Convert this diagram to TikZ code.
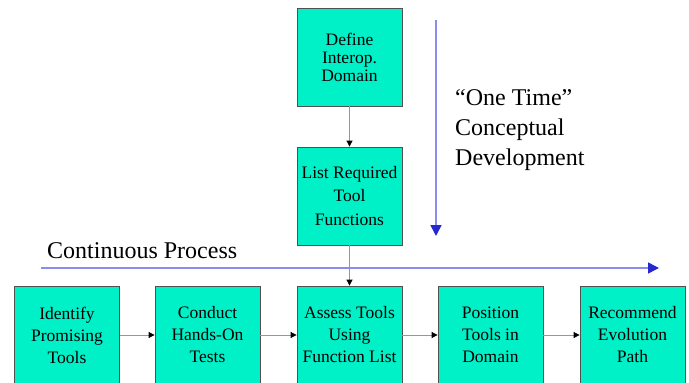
\documentclass[tikz,border=0pt]{standalone}
\usepackage{fontspec}
\setmainfont{Liberation Serif}
\usetikzlibrary{arrows.meta}
\definecolor{boxfill}{RGB}{0,240,200}
\definecolor{boxline}{RGB}{80,80,80}
\definecolor{flowline}{RGB}{150,150,150}
\definecolor{timeline}{RGB}{140,140,240}
\definecolor{timehead}{RGB}{40,40,210}
\tikzset{
  stepbox/.style={draw=boxline, line width=0.8pt, fill=boxfill,
    minimum width=105pt, minimum height=98pt, inner sep=0pt,
    align=center, font=\fontsize{17.5}{22}\selectfont},
  flow/.style={draw=flowline, line width=0.8pt,
    -{Triangle[length=6pt,width=6pt,color=black]}},
  timeaxis/.style={draw=timeline, line width=1.6pt,
    -{Triangle[length=11pt,width=11pt,color=timehead]}},
  bigtext/.style={font=\fontsize{24}{30}\selectfont, inner sep=0pt}
}
\begin{document}
\begin{tikzpicture}[x=1pt,y=-1pt]
  \useasboundingbox (0,0) rectangle (689,383);
  \clip (0,0) rectangle (689,383);

  % conceptual-development boxes
  \node[stepbox, font=\fontsize{17.5}{18}\selectfont] (def) at (349.5,57)
    {Define\\Interop.\\Domain};
  \node[stepbox, font=\fontsize{17.5}{23.5}\selectfont] (req) at (349.5,196)
    {List Required\\Tool\\Functions};

  % process boxes
  \node[stepbox] (b1) at (67,335)    {Identify\\Promising\\Tools};
  \node[stepbox] (b2) at (207.5,335) {Conduct\\Hands-On\\Tests};
  \node[stepbox] (b3) at (349.5,335) {Assess Tools\\Using\\Function List};
  \node[stepbox] (b4) at (490.5,335) {Position\\Tools in\\Domain};
  \node[stepbox] (b5) at (632.5,335) {Recommend\\Evolution\\Path};

  % time axes
  \coordinate (vtop) at (436,20);
  \coordinate (vbot) at (436,236);
  \coordinate (hleft) at (41,268);
  \coordinate (hright) at (659,268);
  \draw[timeaxis] (vtop) -- (vbot);
  \draw[timeaxis] (hleft) -- (hright);

  \node[bigtext, anchor=west, align=left] (once) at (455,130)
    {``One Time''\\Conceptual\\Development};
  \node[bigtext, anchor=base west] (cont) at (47,258) {Continuous Process};

  % connectors
  \draw[flow] (def) -- (req);
  \draw[flow] (req) -- (b3);
  \draw[flow] (b1) -- (b2);
  \draw[flow] (b2) -- (b3);
  \draw[flow] (b3) -- (b4);
  \draw[flow] (b4) -- (b5);
\end{tikzpicture}
\end{document}
